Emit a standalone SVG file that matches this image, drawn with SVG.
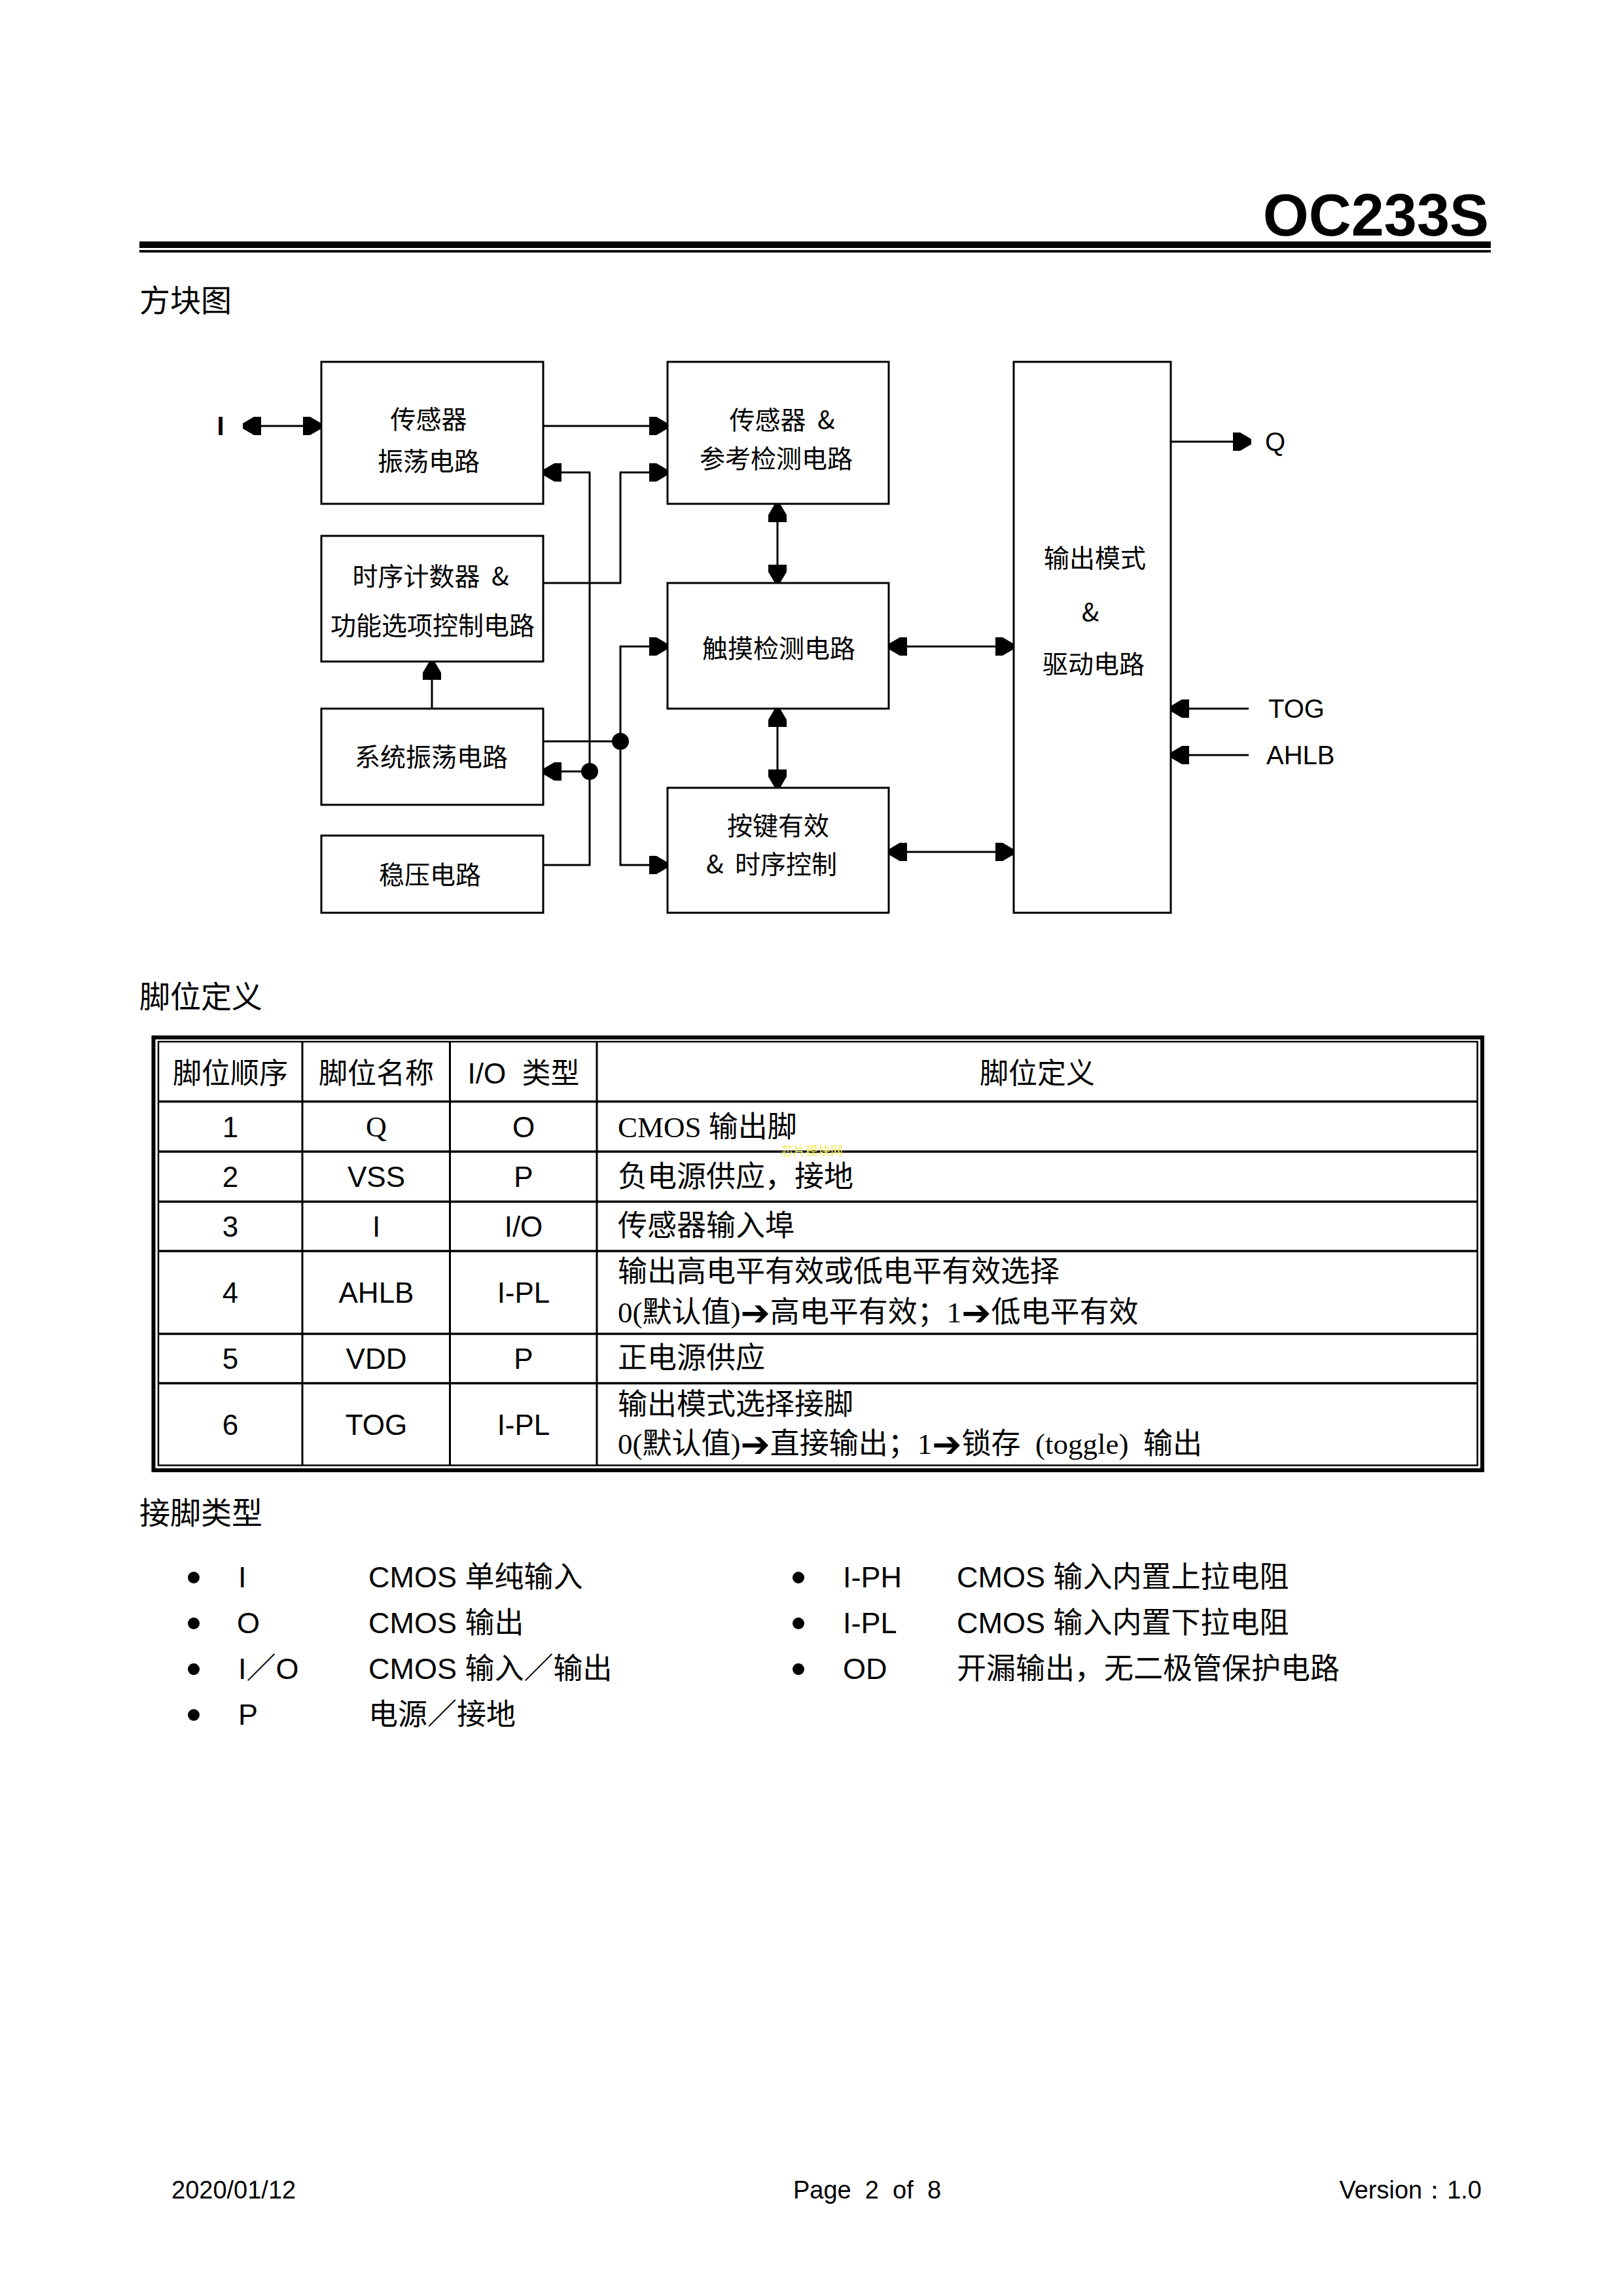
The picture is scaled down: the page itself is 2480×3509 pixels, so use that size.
<svg xmlns="http://www.w3.org/2000/svg" width="2480" height="3509" viewBox="0 0 2480 3509">
<style>
.bg{fill:#fff}
.box{fill:#fff;stroke:#000;stroke-width:3}
.cn{fill:none;stroke:#000;stroke-width:3}
.dot{fill:#000}
.bt{font-family:"Noto Sans CJK SC","DejaVu Sans",sans-serif;font-size:39px;fill:#000;text-anchor:middle;dominant-baseline:central}
.lbl{font-family:"Liberation Sans",Arial,sans-serif;font-size:40px;fill:#000;dominant-baseline:central}
.hd{font-family:"Noto Sans CJK SC",sans-serif;font-size:47px;fill:#000;dominant-baseline:central}
.th{font-family:"Liberation Sans","Noto Sans CJK SC",sans-serif;font-size:44px;fill:#000;text-anchor:middle;dominant-baseline:central}
.td{font-family:"Liberation Sans","Noto Sans CJK SC",sans-serif;font-size:44px;fill:#000;text-anchor:middle;dominant-baseline:central}
.tds{font-family:"Liberation Serif","Noto Sans CJK SC",serif;font-size:44px;fill:#000;text-anchor:middle;dominant-baseline:central}
.desc{font-family:"Liberation Serif","Noto Sans CJK SC","DejaVu Sans",serif;font-size:45px;fill:#000;dominant-baseline:central}
.arr{font-family:"DejaVu Sans",sans-serif;font-weight:bold;font-size:54px}
.li{font-family:"Liberation Sans","Noto Sans CJK SC",sans-serif;font-size:45px;fill:#000;dominant-baseline:central}
.ft{font-family:"Liberation Sans",Arial,sans-serif;font-size:38px;fill:#000}
.tl{stroke:#000;fill:none}
</style>
<defs>
<marker id="ah" viewBox="0 -14 28 28" refX="28" refY="0" markerWidth="28" markerHeight="28" markerUnits="userSpaceOnUse" orient="auto-start-reverse">
<path d="M0,-14 L11,-14 L28,-4 L28,4 L11,14 L0,14 Z" fill="#000"/>
</marker>
</defs>
<rect class="bg" x="0" y="0" width="2480" height="3509"/>

<g id="header">
<text x="2275" y="360" font-family="Liberation Sans, Arial, sans-serif" font-weight="bold" font-size="90" text-anchor="end" fill="#000">OC233S</text>
<rect x="213" y="369" width="2065" height="10" fill="#000"/>
<rect x="213" y="382" width="2065" height="4" fill="#111"/>
<text class="hd" x="213" y="455">方块图</text>
</g>

<g id="connectors">
<line class="cn" x1="371" y1="651" x2="491" y2="651" marker-start="url(#ah)" marker-end="url(#ah)"/>
<path class="cn" d="M830,651 H1020" marker-end="url(#ah)"/>
<path class="cn" d="M830,1322 H901 V722 H830" marker-end="url(#ah)"/>
<path class="cn" d="M901,1179 H830" marker-end="url(#ah)"/>
<path class="cn" d="M830,891 H948 V722 H1020" marker-end="url(#ah)"/>
<path class="cn" d="M830,1133 H948"/>
<path class="cn" d="M948,1133 V988 H1020" marker-end="url(#ah)"/>
<path class="cn" d="M948,1133 V1322 H1020" marker-end="url(#ah)"/>
<path class="cn" d="M660,1083 V1011" marker-end="url(#ah)"/>
<line class="cn" x1="1188" y1="770" x2="1188" y2="891" marker-start="url(#ah)" marker-end="url(#ah)"/>
<line class="cn" x1="1188" y1="1083" x2="1188" y2="1204" marker-start="url(#ah)" marker-end="url(#ah)"/>
<line class="cn" x1="1358" y1="988" x2="1549" y2="988" marker-start="url(#ah)" marker-end="url(#ah)"/>
<line class="cn" x1="1358" y1="1302" x2="1549" y2="1302" marker-start="url(#ah)" marker-end="url(#ah)"/>
<path class="cn" d="M1789,675 H1912" marker-end="url(#ah)"/>
<path class="cn" d="M1908,1083 H1789" marker-end="url(#ah)"/>
<path class="cn" d="M1908,1154 H1789" marker-end="url(#ah)"/>
<circle class="dot" cx="901" cy="1179" r="13"/>
<circle class="dot" cx="948" cy="1133" r="13"/>
</g>

<g id="pin-I"><text class="lbl" x="337" y="651" text-anchor="middle" font-weight="bold" font-size="44">I</text></g>
<g id="pin-Q"><text class="lbl" x="1933" y="675">Q</text></g>
<g id="pin-TOG"><text class="lbl" x="1938" y="1083">TOG</text></g>
<g id="pin-AHLB"><text class="lbl" x="1935" y="1154">AHLB</text></g>

<g id="sensor-osc">
<rect class="box" x="491" y="553" width="339" height="217"/>
<text class="bt" x="655" y="638">传感器</text>
<text class="bt" x="655" y="702">振荡电路</text>
</g>
<g id="timer-ctrl">
<rect class="box" x="491" y="819" width="339" height="192"/>
<text class="bt" x="658" y="878">时序计数器&#160;&#160;&amp;</text>
<text class="bt" x="661" y="953">功能选项控制电路</text>
</g>
<g id="sys-osc">
<rect class="box" x="491" y="1083" width="339" height="147"/>
<text class="bt" x="659" y="1154">系统振荡电路</text>
</g>
<g id="regulator">
<rect class="box" x="491" y="1277" width="339" height="118"/>
<text class="bt" x="657" y="1334">稳压电路</text>
</g>
<g id="sensor-ref">
<rect class="box" x="1020" y="553" width="338" height="217"/>
<text class="bt" x="1195" y="639">传感器&#160;&#160;&amp;</text>
<text class="bt" x="1186" y="698">参考检测电路</text>
</g>
<g id="touch-detect">
<rect class="box" x="1020" y="891" width="338" height="192"/>
<text class="bt" x="1190" y="988">触摸检测电路</text>
</g>
<g id="key-valid">
<rect class="box" x="1020" y="1204" width="338" height="191"/>
<text class="bt" x="1189" y="1259">按键有效</text>
<text class="bt" x="1179" y="1318">&amp;&#160;&#160;时序控制</text>
</g>
<g id="output-driver">
<rect class="box" x="1549" y="553" width="240" height="842"/>
<text class="bt" x="1673" y="850">输出模式</text>
<text class="bt" x="1666" y="933" font-size="32">&amp;</text>
<text class="bt" x="1671" y="1012">驱动电路</text>
</g>

<g id="pin-table">
<text class="hd" x="213" y="1519">脚位定义</text>
<rect class="tl" x="234.5" y="1585.5" width="2030.5" height="661.5" stroke-width="6"/>
<rect class="tl" x="242" y="1592" width="2015.5" height="647.5" stroke-width="2.5"/>
<g stroke="#000" stroke-width="3.5">
<line x1="242" y1="1683.5" x2="2257.5" y2="1683.5"/>
<line x1="242" y1="1760" x2="2257.5" y2="1760"/>
<line x1="242" y1="1836.5" x2="2257.5" y2="1836.5"/>
<line x1="242" y1="1912" x2="2257.5" y2="1912"/>
<line x1="242" y1="2038.5" x2="2257.5" y2="2038.5"/>
<line x1="242" y1="2114" x2="2257.5" y2="2114"/>
</g>
<g stroke="#000" stroke-width="3">
<line x1="462" y1="1592" x2="462" y2="2239.5"/>
<line x1="687.5" y1="1592" x2="687.5" y2="2239.5"/>
<line x1="912" y1="1592" x2="912" y2="2239.5"/>
</g>
<text class="th" x="352" y="1640">脚位顺序</text>
<text class="th" x="575" y="1640">脚位名称</text>
<text class="th" x="800" y="1640">I/O&#160;&#160;类型</text>
<text class="th" x="1585" y="1640">脚位定义</text>

<text class="td" x="352" y="1722">1</text>
<text class="tds" x="575" y="1722">Q</text>
<text class="td" x="800" y="1722">O</text>
<text class="desc" x="944" y="1723">CMOS 输出脚</text>

<text class="td" x="352" y="1798">2</text>
<text class="td" x="575" y="1798">VSS</text>
<text class="td" x="800" y="1798">P</text>
<text class="desc" x="944" y="1799">负电源供应，接地</text>

<text class="td" x="352" y="1874">3</text>
<text class="td" x="575" y="1874">I</text>
<text class="td" x="800" y="1874">I/O</text>
<text class="desc" x="944" y="1874">传感器输入埠</text>

<text class="td" x="352" y="1975">4</text>
<text class="td" x="575" y="1975">AHLB</text>
<text class="td" x="800" y="1975">I-PL</text>
<text class="desc" x="944" y="1944">输出高电平有效或低电平有效选择</text>
<text class="desc" x="944" y="2006">0(默认值)<tspan class="arr">➔</tspan>高电平有效；1<tspan class="arr">➔</tspan>低电平有效</text>

<text class="td" x="352" y="2076">5</text>
<text class="td" x="575" y="2076">VDD</text>
<text class="td" x="800" y="2076">P</text>
<text class="desc" x="944" y="2076">正电源供应</text>

<text class="td" x="352" y="2177">6</text>
<text class="td" x="575" y="2177">TOG</text>
<text class="td" x="800" y="2177">I-PL</text>
<text class="desc" x="944" y="2147">输出模式选择接脚</text>
<text class="desc" x="944" y="2207">0(默认值)<tspan class="arr">➔</tspan>直接输出；1<tspan class="arr">➔</tspan>锁存&#160;&#160;(toggle)&#160;&#160;输出</text>

<text x="1193" y="1757" font-family="Noto Sans CJK SC, sans-serif" font-size="19" fill="#f2ea5e" dominant-baseline="central">芯片模块网</text>
</g>

<g id="pin-types">
<text class="hd" x="213" y="2308">接脚类型</text>
<circle cx="296" cy="2411" r="9" fill="#000"/>
<circle cx="296" cy="2481" r="9" fill="#000"/>
<circle cx="296" cy="2551" r="9" fill="#000"/>
<circle cx="296" cy="2621" r="9" fill="#000"/>
<circle cx="1220" cy="2411" r="9" fill="#000"/>
<circle cx="1220" cy="2481" r="9" fill="#000"/>
<circle cx="1220" cy="2551" r="9" fill="#000"/>
<text class="li" x="364" y="2410">I</text>
<text class="li" x="563" y="2410">CMOS 单纯输入</text>
<text class="li" x="362" y="2480">O</text>
<text class="li" x="563" y="2480">CMOS 输出</text>
<text class="li" x="364" y="2550">I／O</text>
<text class="li" x="563" y="2550">CMOS 输入／输出</text>
<text class="li" x="364" y="2620">P</text>
<text class="li" x="563" y="2620">电源／接地</text>
<text class="li" x="1288" y="2410">I-PH</text>
<text class="li" x="1462" y="2410">CMOS 输入内置上拉电阻</text>
<text class="li" x="1288" y="2480">I-PL</text>
<text class="li" x="1462" y="2480">CMOS 输入内置下拉电阻</text>
<text class="li" x="1288" y="2550">OD</text>
<text class="li" x="1462" y="2550">开漏输出，无二极管保护电路</text>
</g>

<g id="footer">
<text class="ft" x="262" y="3360">2020/01/12</text>
<text class="ft" x="1325" y="3360" text-anchor="middle">Page&#160;&#160;2&#160;&#160;of&#160;&#160;8</text>
<text class="ft" x="2264" y="3360" text-anchor="end" font-family="Liberation Sans, Noto Sans CJK SC, sans-serif">Version：1.0</text>
</g>
</svg>
